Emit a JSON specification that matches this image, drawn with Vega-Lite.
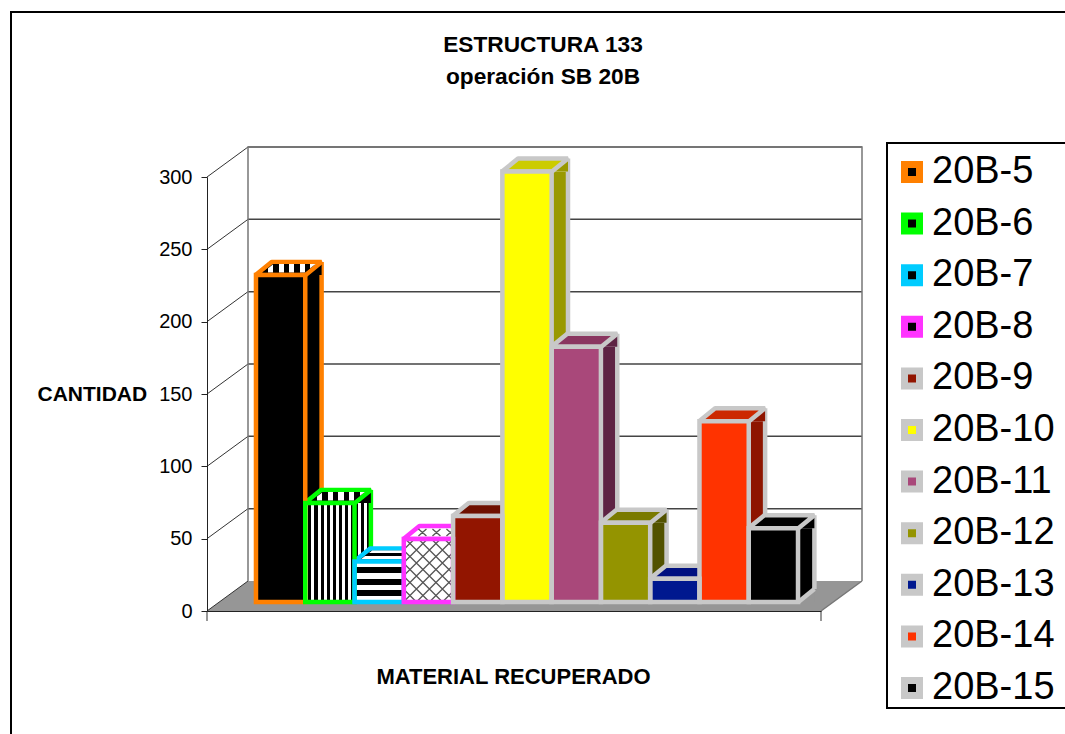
{
"$schema":"https://vega.github.io/schema/vega-lite/v6.json",
"width":614,"height":434,
"autosize":{"type":"none"},
"padding":{"left":207,"top":177,"right":244,"bottom":123},
"background":"white",
"config":{"font":"Liberation Sans","view":{"stroke":null}},
"title":{"text":["ESTRUCTURA 133","operación SB 20B"],"anchor":"middle","dx":29,"fontSize":22.7,"fontWeight":"bold","color":"black","lineHeight":32,"offset":-81},
"data":{"values":[
{"serie":"20B-5","cantidad":226},
{"serie":"20B-6","cantidad":68.5},
{"serie":"20B-7","cantidad":28},
{"serie":"20B-8","cantidad":43.6},
{"serie":"20B-9","cantidad":59.5},
{"serie":"20B-10","cantidad":297.5},
{"serie":"20B-11","cantidad":176.5},
{"serie":"20B-12","cantidad":54.7},
{"serie":"20B-13","cantidad":16},
{"serie":"20B-14","cantidad":125},
{"serie":"20B-15","cantidad":51}
]},
"resolve":{"scale":{"fill":"independent","stroke":"independent"}},
"layer":[
{"data":{"values":[{"marco":1}]},
 "mark":{"type":"point","shape":"M-196 600L-196 -165L900 -165","size":4,"filled":false,"stroke":"black","strokeWidth":2,"opacity":1},
 "encoding":{"x":{"value":0},"y":{"value":0}}},
{"data":{"values":[{"marco":1}]},
 "mark":{"type":"point","shape":"M680 -34L870 -34L870 531L680 531Z","size":4,"filled":true,"fill":"white","stroke":"black","strokeWidth":2,"opacity":1},
 "encoding":{"x":{"value":0},"y":{"value":0}}},
{"data":{"values":[{"marco":1}]},
 "mark":{"type":"point","shape":"M0 0L41 -30L655 -30L614 0Z","size":4,"filled":true,"fill":"#969696","strokeWidth":0,"opacity":1},
 "encoding":{"x":{"value":0},"y":{"datum":0,"type":"quantitative","scale":{"domain":[0,300],"nice":false},
  "axis":{"values":[0,50,100,150,200,250,300],"grid":false,"tickSize":6,"tickColor":"#222","domainColor":"#222","labelFontSize":20,"labelColor":"black","labelPadding":9,"zindex":1,
   "title":"CANTIDAD","titleFontSize":21,"titleFontWeight":"bold","titleColor":"black","titleAngle":0,"titleAlign":"left","titleBaseline":"middle","titleX":-170,"titleY":217}}}},
{"data":{"values":[{"nivel":50},{"nivel":100},{"nivel":150},{"nivel":200},{"nivel":250},{"nivel":300}]},
 "mark":{"type":"point","shape":"M41 -30L655 -30","size":4,"filled":false,"stroke":"#444","strokeWidth":1.5,"opacity":1},
 "encoding":{"x":{"value":0},"y":{"field":"nivel","type":"quantitative"}}},
{"data":{"values":[{"nivel":0},{"nivel":50},{"nivel":100},{"nivel":150},{"nivel":200},{"nivel":250},{"nivel":300}]},
 "mark":{"type":"point","shape":"M0 0L41 -30","size":4,"filled":false,"stroke":"#333","strokeWidth":1,"opacity":1},
 "encoding":{"x":{"value":0},"y":{"field":"nivel","type":"quantitative"}}},
{"data":{"values":[{"marco":1}]},
 "mark":{"type":"point","shape":"M41 -30L41 -464L655 -464L655 -30M614 0L655 -30M0 0L0 10M614 0L614 10","size":4,"filled":false,"stroke":"#777","strokeWidth":1.5,"opacity":1},
 "encoding":{"x":{"value":0},"y":{"datum":0,"type":"quantitative"}}},
{"mark":{"type":"bar","width":16,"xOffset":45.6,"x2Offset":45.6,"yOffset":-9,"y2Offset":-9},
 "encoding":{
  "x":{"field":"serie","type":"nominal","sort":null,"scale":{"paddingInner":0,"paddingOuter":0.73},
   "axis":{"labels":false,"ticks":false,"grid":false,"domainColor":"#222","zindex":1,"title":"MATERIAL RECUPERADO","titleFontSize":22,"titleFontWeight":"bold","titleColor":"black","titleY":65,"titleX":306,"titleBaseline":"middle"}},
  "y":{"field":"cantidad","type":"quantitative"},
  "y2":{"datum":0},
  "fill":{"field":"serie","type":"nominal","sort":null,"legend":null,"scale":{"range":["#000000","#000000","#ffffff","#ffffff","#5c0d00","#999900","#5e2444","#525200","#000e66","#8e1500","#000000"]}}}},
{"transform":[{"filter":"datum.serie === '20B-6'"}],
 "mark":{"type":"bar","width":16,"xOffset":45.6,"x2Offset":45.6,"yOffset":-9,"y2Offset":-9,
  "fill":{"gradient":"linear","x1":0,"x2":1,"y1":0,"y2":0,"stops":[{"offset":0,"color":"#000"},{"offset":0.2,"color":"#000"},{"offset":0.2,"color":"#fff"},{"offset":0.4,"color":"#fff"},{"offset":0.4,"color":"#000"},{"offset":0.6,"color":"#000"},{"offset":0.6,"color":"#fff"},{"offset":0.8,"color":"#fff"},{"offset":0.8,"color":"#000"},{"offset":1,"color":"#000"}]}},
 "encoding":{"x":{"field":"serie","type":"nominal","sort":null},"y":{"field":"cantidad","type":"quantitative"},"y2":{"datum":0}}},
{"mark":{"type":"point","shape":"M25 0L41 -13L41 0Z","size":4,"filled":true,"strokeWidth":0,"opacity":1,"fill":"#969696","xOffset":13,"yOffset":-9},
 "encoding":{"x":{"field":"serie","type":"nominal","sort":null},"y":{"datum":0,"type":"quantitative"}}},
{"mark":{"type":"point","shape":"M25 0L41 -13","size":4,"filled":false,"strokeWidth":4.5,"opacity":1,"xOffset":13,"yOffset":-9},
 "encoding":{"x":{"field":"serie","type":"nominal","sort":null},"y":{"datum":0,"type":"quantitative"},
  "stroke":{"field":"serie","type":"nominal","sort":null,"legend":null,"scale":{"range":["#ff8000","#00ff00","#00ccff","#ff33ff","#c8c8c8","#c8c8c8","#c8c8c8","#c8c8c8","#c8c8c8","#c8c8c8","#c8c8c8"]}}}},
{"mark":{"type":"rule","strokeWidth":4.5,"xOffset":54,"x2Offset":54,"yOffset":-22,"y2Offset":-22},
 "encoding":{"x":{"field":"serie","type":"nominal","sort":null},"y":{"field":"cantidad","type":"quantitative"},"y2":{"datum":0},
  "stroke":{"field":"serie","type":"nominal","sort":null,"legend":null,"scale":{"range":["#ff8000","#00ff00","#00ccff","#ff33ff","#c8c8c8","#c8c8c8","#c8c8c8","#c8c8c8","#c8c8c8","#c8c8c8","#c8c8c8"]}}}},
{"mark":{"type":"point","shape":"M25 0L41 -13L41 0Z","size":4,"filled":true,"strokeWidth":0,"opacity":1,"xOffset":13,"yOffset":-9},
 "encoding":{"x":{"field":"serie","type":"nominal","sort":null},"y":{"field":"cantidad","type":"quantitative"},
  "fill":{"field":"serie","type":"nominal","sort":null,"legend":null,"scale":{"range":["#000000","#000000","#ffffff","#ffffff","#5c0d00","#999900","#5e2444","#525200","#000e66","#8e1500","#000000"]}}}},
{"mark":{"type":"point","shape":"M-25 0L25 0L41 -13L-9 -13Z","size":4,"filled":true,"strokeWidth":4.5,"strokeJoin":"bevel","opacity":1,"xOffset":13,"yOffset":-9},
 "encoding":{"x":{"field":"serie","type":"nominal","sort":null},"y":{"field":"cantidad","type":"quantitative"},
  "fill":{"field":"serie","type":"nominal","sort":null,"legend":null,"scale":{"range":["#000000","#000000","#000000","#ffffff","#6e1000","#cccc00","#8a3660","#7a7a00","#001080","#cc2800","#000000"]}},
  "stroke":{"field":"serie","type":"nominal","sort":null,"legend":null,"scale":{"range":["#ff8000","#00ff00","#00ccff","#ff33ff","#c8c8c8","#c8c8c8","#c8c8c8","#c8c8c8","#c8c8c8","#c8c8c8","#c8c8c8"]}}}},
{"transform":[{"filter":"datum.serie === '20B-5' || datum.serie === '20B-6'"}],
 "mark":{"type":"point","shape":"M-18 -2.5L24 -2.5L35 -11L-7 -11Z","size":4,"filled":true,"strokeWidth":0,"opacity":1,"xOffset":13,"yOffset":-9,
  "fill":{"gradient":"linear","x1":0,"x2":1,"y1":0,"y2":0,"stops":[{"offset":0,"color":"#000"},{"offset":0.1,"color":"#000"},{"offset":0.1,"color":"#fff"},{"offset":0.2,"color":"#fff"},{"offset":0.2,"color":"#000"},{"offset":0.3,"color":"#000"},{"offset":0.3,"color":"#fff"},{"offset":0.4,"color":"#fff"},{"offset":0.4,"color":"#000"},{"offset":0.5,"color":"#000"},{"offset":0.5,"color":"#fff"},{"offset":0.6,"color":"#fff"},{"offset":0.6,"color":"#000"},{"offset":0.7,"color":"#000"},{"offset":0.7,"color":"#fff"},{"offset":0.8,"color":"#fff"},{"offset":0.8,"color":"#000"},{"offset":0.9,"color":"#000"},{"offset":0.9,"color":"#fff"},{"offset":1,"color":"#fff"}]}},
 "encoding":{"x":{"field":"serie","type":"nominal","sort":null},"y":{"field":"cantidad","type":"quantitative"}}},
{"transform":[{"filter":"datum.serie === '20B-7'"}],
 "mark":{"type":"point","shape":"M-18 -2.5L24 -2.5L35 -11L-7 -11Z","size":4,"filled":true,"strokeWidth":0,"opacity":1,"xOffset":13,"yOffset":-9,
  "fill":{"gradient":"linear","x1":0,"x2":0,"y1":0,"y2":1,"stops":[{"offset":0,"color":"#fff"},{"offset":0.35,"color":"#fff"},{"offset":0.35,"color":"#000"},{"offset":0.7,"color":"#000"},{"offset":0.7,"color":"#fff"},{"offset":1,"color":"#fff"}]}},
 "encoding":{"x":{"field":"serie","type":"nominal","sort":null},"y":{"field":"cantidad","type":"quantitative"}}},
{"mark":{"type":"bar","xOffset":13,"x2Offset":13,"yOffset":-9,"y2Offset":-9,"strokeWidth":0},
 "encoding":{
  "x":{"field":"serie","type":"nominal","sort":null},
  "y":{"field":"cantidad","type":"quantitative"},
  "y2":{"datum":0},
  "fill":{"field":"serie","type":"nominal","sort":null,
   "scale":{"range":["#000000","#000000","#000000","#000000","#921500","#ffff00","#a9487a","#949400","#00188f","#ff3300","#000000"]},
   "legend":{"title":null,"orient":"none","legendX":680,"legendY":-30,"symbolType":"square","symbolSize":225,"symbolStrokeWidth":7,"labelFontSize":38,"labelColor":"black","labelOffset":1,"padding":6,"rowPadding":7.6}},
  "stroke":{"field":"serie","type":"nominal","sort":null,"scale":{"range":["#ff8000","#00ff00","#00ccff","#ff33ff","#c8c8c8","#c8c8c8","#c8c8c8","#c8c8c8","#c8c8c8","#c8c8c8","#c8c8c8"]},
   "legend":{"title":null,"orient":"none","legendX":680,"legendY":-30,"symbolType":"square","symbolSize":225,"symbolStrokeWidth":7,"labelFontSize":38,"labelColor":"black","labelOffset":1,"padding":6,"rowPadding":7.6}}}},
{"transform":[{"filter":"datum.serie === '20B-6'"}],
 "mark":{"type":"bar","xOffset":13,"x2Offset":13,"yOffset":-9,"y2Offset":-9,
  "fill":{"gradient":"linear","x1":0,"x2":1,"y1":0,"y2":0,"stops":[{"offset":0,"color":"#fff"},{"offset":0.0625,"color":"#fff"},{"offset":0.0625,"color":"#000"},{"offset":0.125,"color":"#000"},{"offset":0.125,"color":"#fff"},{"offset":0.1875,"color":"#fff"},{"offset":0.1875,"color":"#000"},{"offset":0.25,"color":"#000"},{"offset":0.25,"color":"#fff"},{"offset":0.3125,"color":"#fff"},{"offset":0.3125,"color":"#000"},{"offset":0.375,"color":"#000"},{"offset":0.375,"color":"#fff"},{"offset":0.4375,"color":"#fff"},{"offset":0.4375,"color":"#000"},{"offset":0.5,"color":"#000"},{"offset":0.5,"color":"#fff"},{"offset":0.5625,"color":"#fff"},{"offset":0.5625,"color":"#000"},{"offset":0.625,"color":"#000"},{"offset":0.625,"color":"#fff"},{"offset":0.6875,"color":"#fff"},{"offset":0.6875,"color":"#000"},{"offset":0.75,"color":"#000"},{"offset":0.75,"color":"#fff"},{"offset":0.8125,"color":"#fff"},{"offset":0.8125,"color":"#000"},{"offset":0.875,"color":"#000"},{"offset":0.875,"color":"#fff"},{"offset":0.9375,"color":"#fff"},{"offset":0.9375,"color":"#000"},{"offset":1,"color":"#000"}]}},
 "encoding":{"x":{"field":"serie","type":"nominal","sort":null},"y":{"field":"cantidad","type":"quantitative"},"y2":{"datum":0}}},
{"transform":[{"filter":"datum.serie === '20B-7'"}],
 "mark":{"type":"bar","xOffset":13,"x2Offset":13,"yOffset":-9,"y2Offset":-9,
  "fill":{"gradient":"linear","x1":0,"x2":0,"y1":0,"y2":1,"stops":[{"offset":0,"color":"#fff"},{"offset":0.1429,"color":"#fff"},{"offset":0.1429,"color":"#000"},{"offset":0.2857,"color":"#000"},{"offset":0.2857,"color":"#fff"},{"offset":0.4286,"color":"#fff"},{"offset":0.4286,"color":"#000"},{"offset":0.5714,"color":"#000"},{"offset":0.5714,"color":"#fff"},{"offset":0.7143,"color":"#fff"},{"offset":0.7143,"color":"#000"},{"offset":0.8571,"color":"#000"},{"offset":0.8571,"color":"#fff"},{"offset":1,"color":"#fff"}]}},
 "encoding":{"x":{"field":"serie","type":"nominal","sort":null},"y":{"field":"cantidad","type":"quantitative"},"y2":{"datum":0}}},
{"transform":[{"filter":"datum.serie === '20B-8'"}],
 "mark":{"type":"bar","xOffset":13,"x2Offset":13,"yOffset":-9,"y2Offset":-9,"fill":"#ffffff"},
 "encoding":{"x":{"field":"serie","type":"nominal","sort":null},"y":{"field":"cantidad","type":"quantitative"},"y2":{"datum":0}}},
{"transform":[{"filter":"datum.serie === '20B-8'"}],
 "mark":{"type":"point","shape":"M-25 -52L-14 -63M-25 -39L-1 -63M-25 -26L12 -63M-25 -13L25 -63M-25 0L25 -50M-12 0L25 -37M1 0L25 -24M14 0L25 -11M-25 -13L-12 0M-25 -26L1 0M-25 -39L14 0M-25 -52L25 -2M-23 -63L25 -15M-10 -63L25 -28M3 -63L25 -41M16 -63L25 -54","size":4,"filled":false,"stroke":"#555","strokeWidth":1.3,"opacity":1,"xOffset":13,"yOffset":-9},
 "encoding":{"x":{"field":"serie","type":"nominal","sort":null},"y":{"datum":0,"type":"quantitative"}}},
{"transform":[{"filter":"datum.serie === '20B-8'"}],
 "mark":{"type":"point","shape":"M-10 -3L-2 -10M-10 -10L-2 -3M4 -3L12 -10M4 -10L12 -3M18 -3L26 -10M18 -10L26 -3","size":4,"filled":false,"stroke":"#555","strokeWidth":1.3,"opacity":1,"xOffset":13,"yOffset":-9},
 "encoding":{"x":{"field":"serie","type":"nominal","sort":null},"y":{"field":"cantidad","type":"quantitative"}}},
{"mark":{"type":"bar","xOffset":13,"x2Offset":13,"yOffset":-9,"y2Offset":-9,"fillOpacity":0,"strokeWidth":4.5},
 "encoding":{
  "x":{"field":"serie","type":"nominal","sort":null},
  "y":{"field":"cantidad","type":"quantitative"},
  "y2":{"datum":0},
  "stroke":{"field":"serie","type":"nominal","sort":null,"legend":null,"scale":{"range":["#ff8000","#00ff00","#00ccff","#ff33ff","#c8c8c8","#c8c8c8","#c8c8c8","#c8c8c8","#c8c8c8","#c8c8c8","#c8c8c8"]}}}}
]
}
